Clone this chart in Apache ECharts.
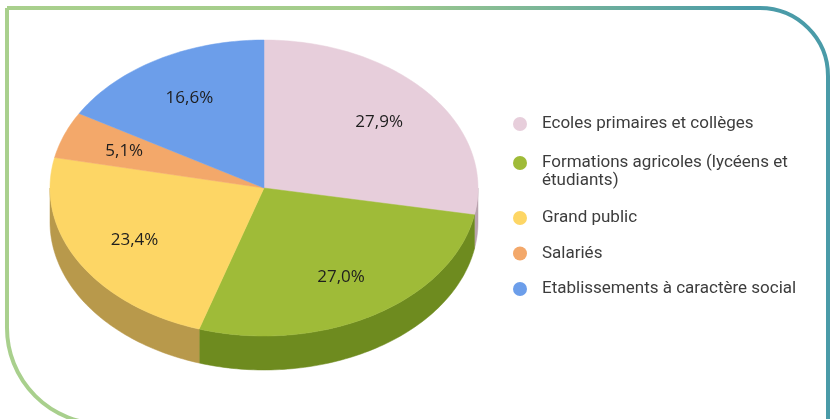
<!DOCTYPE html>
<html>
<head>
<meta charset="utf-8">
<script src="https://cdn.jsdelivr.net/npm/echarts@6/dist/echarts.min.js"></script>
<style>
  html, body { margin: 0; padding: 0; background: #fff; }
  #chart { width: 835px; height: 419px; }
</style>
</head>
<body>
<div id="chart"></div>
<script>
  // data
  var categories = [
    'Ecoles primaires et collèges',
    'Formations agricoles (lycéens et étudiants)',
    'Grand public',
    'Salariés',
    'Etablissements à caractère social'
  ]
  var values = [27.9, 27.0, 23.4, 5.1, 16.6]

  // colours of the top faces and of the side walls
  var topColors = ['#e7cedb', '#9fbb38', '#fdd665', '#f3a86a', '#6c9eea']
  var sideColors = ['#b9a3ae', '#6e8b1f', '#b8994b', '#c0804a', '#4d76b2']

  // layout of the tilted pie
  var PIE = { cx: 264, cy: 188, rx: 214, ry: 148, depth: 34, labelR: 0.7 }

  var total = 0
  var starts = []
  values.forEach(function (v) {
    starts.push(total)
    total += v
  })

  function pt (a, dy) {
    return [PIE.cx + PIE.rx * Math.sin(a), PIE.cy - PIE.ry * Math.cos(a) + (dy || 0)]
  }

  function arc (a1, a2, dy) {
    var pts = []
    var n = Math.max(2, Math.ceil((a2 - a1) / 0.02))
    for (var i = 0; i <= n; i++) {
      pts.push(pt(a1 + (a2 - a1) * i / n, dy))
    }
    return pts
  }

  function fmt (v) {
    return v.toFixed(1).replace('.', ',') + '%'
  }

  function makeRender (idx) {
    return function (params, api) {
      var a1 = api.value(0) / total * Math.PI * 2
      var a2 = api.value(1) / total * Math.PI * 2
      var children = []
      // side wall, only the front half of the pie shows it
      var lo = Math.max(a1, Math.PI / 2)
      var hi = Math.min(a2, Math.PI * 3 / 2)
      if (hi > lo) {
        var wall = arc(lo, hi, 0).concat(arc(lo, hi, PIE.depth).reverse())
        children.push({
          type: 'polygon',
          shape: { points: wall },
          style: { fill: sideColors[idx], stroke: sideColors[idx], lineWidth: 0.5 }
        })
      }
      children.push({
        type: 'polygon',
        shape: { points: [[PIE.cx, PIE.cy]].concat(arc(a1, a2, 0)) },
        style: { fill: topColors[idx], stroke: topColors[idx], lineWidth: 0.5 }
      })
      var mid = (a1 + a2) / 2
      children.push({
        type: 'text',
        style: {
          text: fmt(api.value(1) - api.value(0)),
          x: PIE.cx + PIE.rx * PIE.labelR * Math.sin(mid),
          y: PIE.cy - PIE.ry * PIE.labelR * Math.cos(mid),
          align: 'center',
          verticalAlign: 'middle',
          fontSize: 17,
          fontFamily: 'Open Sans',
          fill: '#1e1e1e'
        }
      })
      return { type: 'group', children: children }
    }
  }

  var legendText = { fontFamily: 'Roboto', fontSize: 17, lineHeight: 18, color: '#3d3d3d' }

  var option = {
    animation: false,
    backgroundColor: '#fff',
    graphic: [{
      type: 'rect',
      silent: true,
      z: -10,
      shape: { x: 7, y: 8, width: 821, height: 416, r: [0, 68, 0, 96] },
      style: {
        fill: 'none',
        lineWidth: 4,
        stroke: new echarts.graphic.LinearGradient(0, 0, 1, 0, [
          { offset: 0, color: '#a9d08d' },
          { offset: 0.45, color: '#a3cc8b' },
          { offset: 0.9, color: '#4a9ba8' },
          { offset: 1, color: '#4a9ba8' }
        ])
      }
    }],
    legend: [{
      orient: 'vertical',
      left: 513,
      top: 115,
      padding: 0,
      itemGap: 3,
      itemWidth: 34,
      itemHeight: 14,
      icon: 'circle',
      selectedMode: false,
      data: categories.slice(0, 2),
      formatter: function (name) {
        // the long entry wraps, with its dot on the first line
        return name.indexOf(' étudiants') > 0 ? '\n' + name.replace(' étudiants', '\nétudiants') : name
      },
      textStyle: legendText
    }, {
      orient: 'vertical',
      left: 513,
      top: 209,
      padding: 0,
      itemGap: 17.5,
      itemWidth: 34,
      itemHeight: 14,
      icon: 'circle',
      selectedMode: false,
      data: categories.slice(2),
      textStyle: legendText
    }],
    series: categories.map(function (name, i) {
      return {
        type: 'custom',
        name: name,
        coordinateSystem: 'none',
        itemStyle: { color: topColors[i] },
        renderItem: makeRender(i),
        data: [[starts[i], starts[i] + values[i]]]
      }
    })
  }

  var myChart = echarts.init(document.getElementById('chart'))
  myChart.setOption(option)
</script>
</body>
</html>
